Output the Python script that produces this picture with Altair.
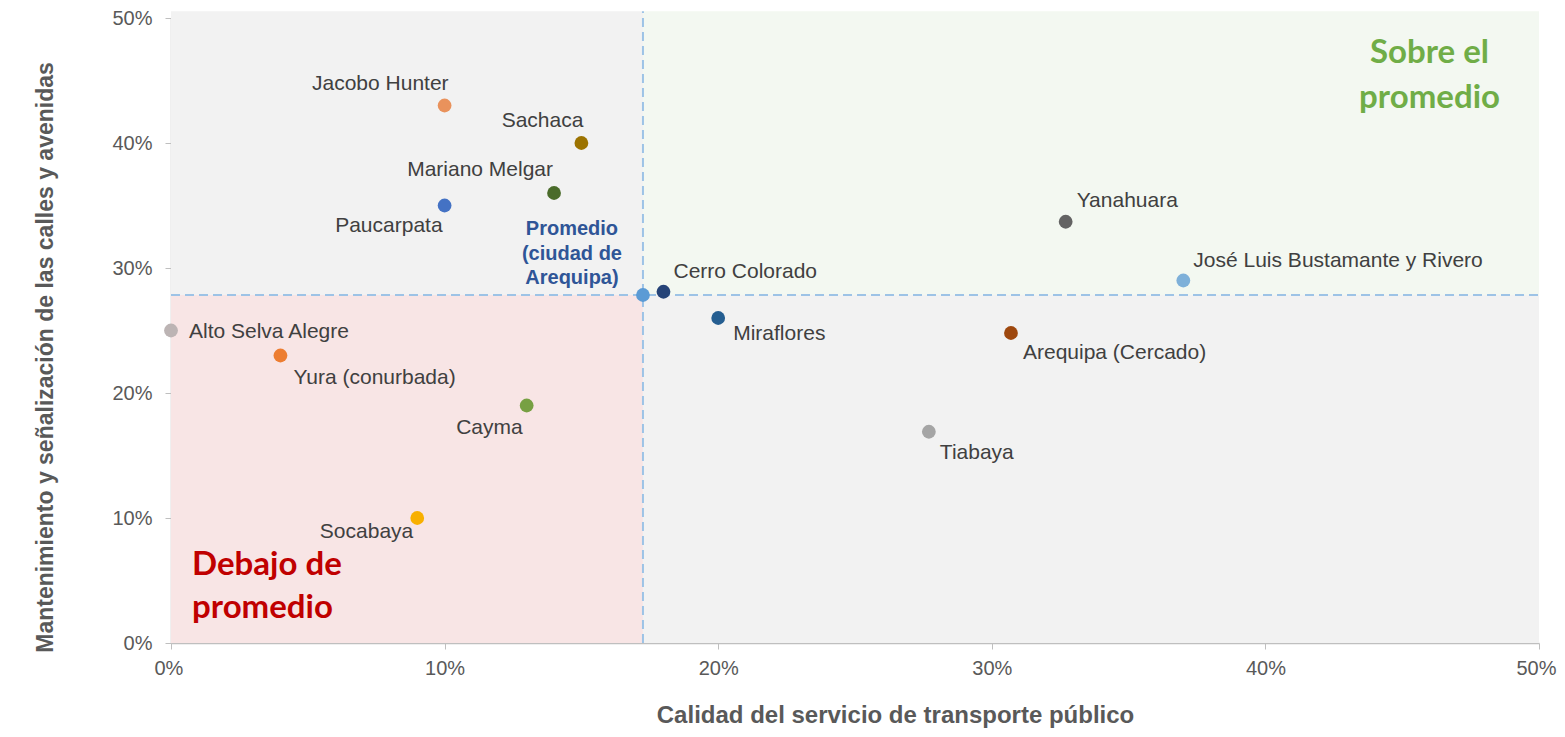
import altair as alt
import pandas as pd

# ---------------- data ----------------
names = [
    "Alto Selva Alegre", "Yura (conurbada)", "Jacobo Hunter", "Sachaca",
    "Mariano Melgar", "Paucarpata", "Promedio", "Cerro Colorado", "Miraflores",
    "Cayma", "Socabaya", "Yanahuara", "José Luis Bustamante y Rivero",
    "Arequipa (Cercado)", "Tiabaya",
]
label_text = [
    "Alto Selva Alegre", "Yura (conurbada)", "Jacobo Hunter", "Sachaca",
    "Mariano Melgar", "Paucarpata", "Promedio\n(ciudad de\nArequipa)", "Cerro Colorado",
    "Miraflores", "Cayma", "Socabaya", "Yanahuara", "José Luis Bustamante y Rivero",
    "Arequipa (Cercado)", "Tiabaya",
]
# Calidad del servicio de transporte público (%)
transporte = [0, 4, 10, 15, 14, 10, 17.25, 18, 20, 13, 9, 32.7, 37, 30.7, 27.7]
# Mantenimiento y señalización de las calles y avenidas (%)
calles = [25, 23, 43, 40, 36, 35, 27.84, 28.1, 26, 19, 10, 33.7, 29, 24.8, 16.9]

avg_x = 17.25
avg_y = 27.84
axis_max = 50
bg_top = 50.55
tick_vals = [0, 10, 20, 30, 40, 50]

# ---------------- style ----------------
point_colors = [
    "#bcb4b4", "#ed7d31", "#e9925c", "#9c7300", "#4a6b2a", "#4472c4", "#5b9bd5",
    "#264478", "#255e91", "#77a043", "#f8b000", "#636363", "#7eb0d9",
    "#9e480e", "#a5a5a5",
]
# (dx, dy, align) for each label
label_place = {
    "Alto Selva Alegre": (18, 1, "left"),
    "Yura (conurbada)": (13, 22, "left"),
    "Jacobo Hunter": (4, -22, "right"),
    "Sachaca": (2, -22, "right"),
    "Mariano Melgar": (-1, -23, "right"),
    "Paucarpata": (-2, 20, "right"),
    "Promedio": (-71, -66, "center"),
    "Cerro Colorado": (10, -20, "left"),
    "Miraflores": (15, 16, "left"),
    "Cayma": (-4, 22, "right"),
    "Socabaya": (-4, 14, "right"),
    "Yanahuara": (11, -21, "left"),
    "José Luis Bustamante y Rivero": (10, -20, "left"),
    "Arequipa (Cercado)": (12, 20, "left"),
    "Tiabaya": (11, 21, "left"),
}

pts = pd.DataFrame({"name": names, "label": label_text, "tx": transporte, "cy": calles})

quads = pd.DataFrame({
    "q": ["tl", "tr", "bl", "br"],
    "x": [0, avg_x, 0, avg_x],
    "x2": [avg_x, axis_max, avg_x, axis_max],
    "y": [avg_y, avg_y, 0, 0],
    "y2": [bg_top, bg_top, avg_y, avg_y],
})
quad_colors = ["#f2f2f2", "#f3f8f1", "#f8e5e5", "#f2f2f2"]

W, H = 1368, 625
xscale = alt.Scale(domain=[0, axis_max], nice=False, zero=False)
yscale = alt.Scale(domain=[0, axis_max], nice=False, zero=False)

x_axis = alt.Axis(
    values=tick_vals, labelExpr="datum.value + '%'", grid=False,
    domainColor="#bfbfbf", tickColor="#bfbfbf", tickSize=6, domainWidth=1.5,
    labelFont="Liberation Sans", labelFontSize=20, labelColor="#595959", labelPadding=9,
    labelFlush=True, labelFlushOffset=17,
    title="Calidad del servicio de transporte público",
    titleFont="Liberation Sans", titleFontSize=24, titleFontWeight="bold", titleColor="#595959",
    titleX=724, titleY=72, titleBaseline="middle", titleAlign="center",
)
y_axis = alt.Axis(
    values=tick_vals, labelExpr="datum.value + '%'", grid=False,
    domainColor="#bfbfbf", tickColor="#bfbfbf", tickSize=6, domainWidth=1.5,
    labelFont="Liberation Sans", labelFontSize=20, labelColor="#595959", labelPadding=13,
    labelFlush=False,
    title="Mantenimiento y señalización de las calles y avenidas",
    titleFont="Liberation Sans", titleFontSize=23, titleFontWeight="bold", titleColor="#595959",
    titleX=-126, titleY=339, titleAngle=-90, titleBaseline="middle", titleAlign="center",
)

bg = alt.Chart(quads).mark_rect(clip=False).encode(
    x=alt.X("x:Q", scale=xscale, axis=x_axis),
    x2="x2:Q",
    y=alt.Y("y:Q", scale=yscale, axis=y_axis),
    y2="y2:Q",
    fill=alt.Fill("q:N", scale=alt.Scale(domain=["tl", "tr", "bl", "br"], range=quad_colors), legend=None),
)

hline = alt.Chart(pd.DataFrame({"x": [0], "x2": [axis_max], "y": [avg_y]})).mark_rule(
    color="#9dc3e6", strokeWidth=2, strokeDash=[9, 5]
).encode(x=alt.X("x:Q", scale=xscale), x2="x2:Q", y=alt.Y("y:Q", scale=yscale))

vline = alt.Chart(pd.DataFrame({"x": [avg_x], "y": [0], "y2": [bg_top]})).mark_rule(
    color="#9dc3e6", strokeWidth=2, strokeDash=[9, 5], clip=False
).encode(x=alt.X("x:Q", scale=xscale), y=alt.Y("y:Q", scale=yscale), y2="y2:Q")

points = alt.Chart(pts).mark_circle(size=190, opacity=1).encode(
    x=alt.X("tx:Q", scale=xscale),
    y=alt.Y("cy:Q", scale=yscale),
    color=alt.Color("name:N", scale=alt.Scale(domain=names, range=point_colors), legend=None),
)

layers = [bg, hline, vline, points]

for nm in names:
    dx, dy, al = label_place[nm]
    if nm == "Promedio":
        mk = dict(font="Liberation Sans", fontSize=20, fontWeight="bold", color="#2f5597",
                  lineBreak="\n", lineHeight=24.5)
    else:
        mk = dict(font="Liberation Sans", fontSize=21, color="#404040")
    t = alt.Chart(pts).transform_filter(alt.datum.name == nm).mark_text(
        align=al, baseline="middle", dx=dx, dy=dy, **mk
    ).encode(x=alt.X("tx:Q", scale=xscale), y=alt.Y("cy:Q", scale=yscale), text="label:N")
    layers.append(t)

notes = pd.DataFrame({
    "txt": ["Sobre el\npromedio", "Debajo de\npromedio"],
    "x": [46.0, 0.77],
    "y": [47.2, 6.24],
})
sobre = alt.Chart(notes.iloc[[0]]).mark_text(
    font="Lato", fontSize=33, fontWeight="bold", color="#70ad47", align="center",
    baseline="middle", lineBreak="\n", lineHeight=45,
).encode(x=alt.X("x:Q", scale=xscale), y=alt.Y("y:Q", scale=yscale), text="txt:N")
debajo = alt.Chart(notes.iloc[[1]]).mark_text(
    font="Lato", fontSize=33, fontWeight="bold", color="#c00000", align="left",
    baseline="middle", lineBreak="\n", lineHeight=43,
).encode(x=alt.X("x:Q", scale=xscale), y=alt.Y("y:Q", scale=yscale), text="txt:N")
layers += [sobre, debajo]

chart = alt.layer(*layers).properties(
    width=W, height=H,
    autosize=alt.AutoSizeParams(type="none"),
    padding={"left": 163, "top": 10, "right": 18, "bottom": 86},
    background="white",
).configure_view(stroke=None)

chart.save("out.html", embed_options={"renderer": "svg", "actions": False})
